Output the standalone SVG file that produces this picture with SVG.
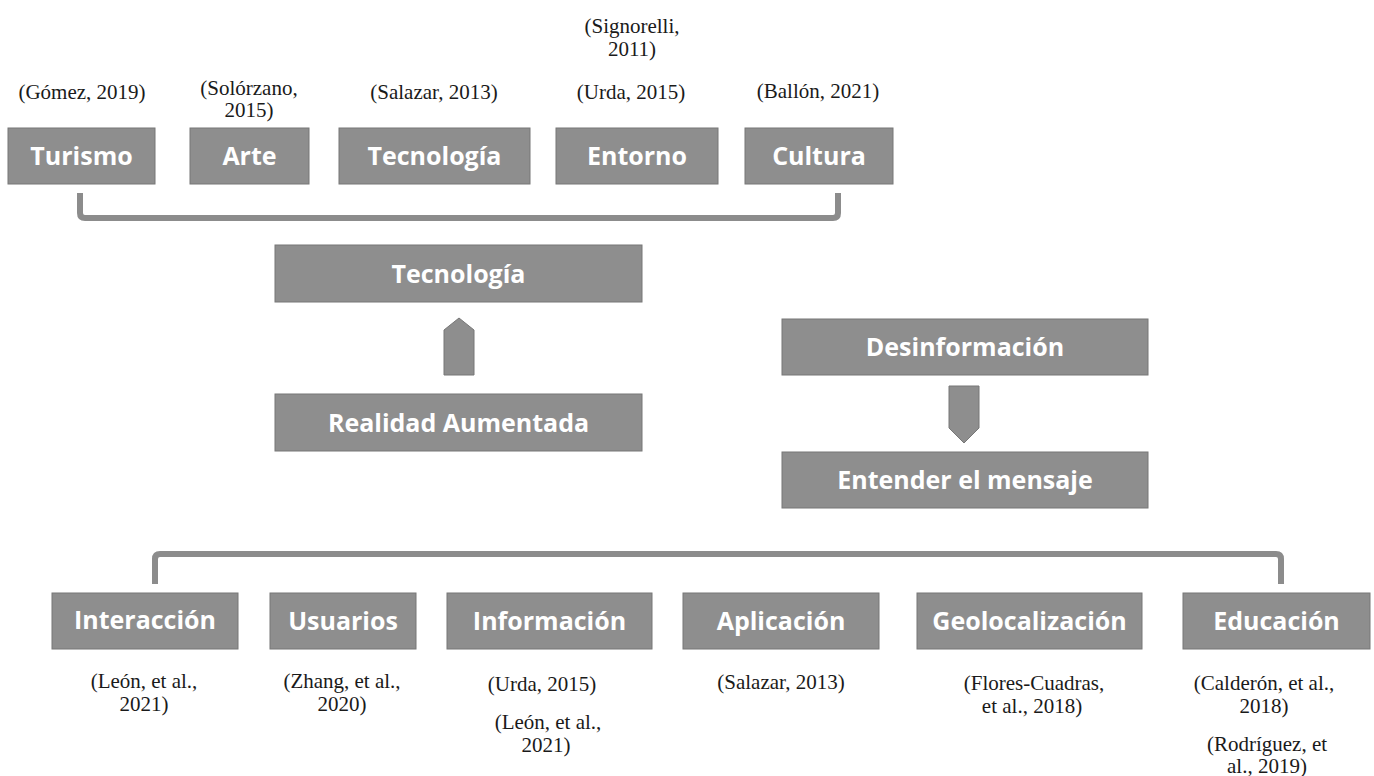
<svg xmlns="http://www.w3.org/2000/svg" width="1374" height="776" viewBox="0 0 1374 776">
<style>
.box{fill:#8e8e8e;stroke:#777;stroke-width:1}
.lbl{font-family:"Open Sans","DejaVu Sans",sans-serif;font-weight:bold;font-size:25px;fill:#fff;text-anchor:middle}
.cit{font-family:"Liberation Serif","Times New Roman",serif;font-size:21px;fill:#1a1a1a;text-anchor:middle}
.br{fill:none;stroke:#8c8c8c;stroke-width:6;stroke-linejoin:round;stroke-linecap:butt}
.arr{fill:#8e8e8e;stroke:#777;stroke-width:1}
</style>
<rect width="1374" height="776" fill="#fff"/>
<g id="connectors">
<path class="br" d="M80,193 V213 Q80,218 85,218 H833 Q838,218 838,213 V193"/>
<path class="br" d="M155,584 V559 Q155,554 160,554 H1276 Q1281,554 1281,559 V584"/>
<polygon id="arrow-up" class="arr" points="444,375 444,330 459,318 474,330 474,375"/>
<polygon id="arrow-down" class="arr" points="949,386 979,386 979,428 964,443 949,428"/>
</g>
<g id="turismo"><rect class="box" x="8" y="128" width="147" height="56"/><text class="lbl" x="81.5" y="165">Turismo</text><text class="cit" x="82" y="99">(Gómez, 2019)</text></g>
<g id="arte"><rect class="box" x="190" y="128" width="119" height="56"/><text class="lbl" x="249.5" y="165">Arte</text><text class="cit" x="249" y="95">(Solórzano,</text><text class="cit" x="249" y="117">2015)</text></g>
<g id="tecnologia-top"><rect class="box" x="339" y="128" width="191" height="56"/><text class="lbl" x="434.5" y="165">Tecnología</text><text class="cit" x="434" y="99">(Salazar, 2013)</text></g>
<g id="entorno"><rect class="box" x="556" y="128" width="162" height="56"/><text class="lbl" x="637" y="165">Entorno</text><text class="cit" x="631" y="99">(Urda, 2015)</text><text class="cit" x="632" y="33">(Signorelli,</text><text class="cit" x="632" y="56">2011)</text></g>
<g id="cultura"><rect class="box" x="745" y="128" width="148" height="56"/><text class="lbl" x="819" y="165">Cultura</text><text class="cit" x="818" y="98">(Ballón, 2021)</text></g>
<g id="tecnologia"><rect class="box" x="275" y="245" width="367" height="57"/><text class="lbl" x="458.5" y="283">Tecnología</text></g>
<g id="realidad"><rect class="box" x="275" y="394" width="367" height="57"/><text class="lbl" x="458.5" y="432">Realidad Aumentada</text></g>
<g id="desinformacion"><rect class="box" x="782" y="319" width="366" height="56"/><text class="lbl" x="965" y="356">Desinformación</text></g>
<g id="entender"><rect class="box" x="782" y="452" width="366" height="56"/><text class="lbl" x="965" y="489">Entender el mensaje</text></g>
<g id="interaccion"><rect class="box" x="52" y="593" width="186" height="56"/><text class="lbl" x="145" y="629">Interacción</text><text class="cit" x="144" y="688">(León, et al.,</text><text class="cit" x="144" y="711">2021)</text></g>
<g id="usuarios"><rect class="box" x="270" y="593" width="146" height="56"/><text class="lbl" x="343" y="630">Usuarios</text><text class="cit" x="342" y="688">(Zhang, et al.,</text><text class="cit" x="342" y="711">2020)</text></g>
<g id="informacion"><rect class="box" x="447" y="593" width="205" height="56"/><text class="lbl" x="549.5" y="630">Información</text><text class="cit" x="542" y="691">(Urda, 2015)</text><text class="cit" x="548" y="729">(León, et al.,</text><text class="cit" x="546" y="752">2021)</text></g>
<g id="aplicacion"><rect class="box" x="683" y="593" width="196" height="56"/><text class="lbl" x="781" y="630">Aplicación</text><text class="cit" x="781" y="689">(Salazar, 2013)</text></g>
<g id="geolocalizacion"><rect class="box" x="917" y="593" width="225" height="56"/><text class="lbl" x="1029.5" y="630">Geolocalización</text><text class="cit" x="1034" y="690">(Flores-Cuadras,</text><text class="cit" x="1032" y="713">et al., 2018)</text></g>
<g id="educacion"><rect class="box" x="1183" y="593" width="187" height="56"/><text class="lbl" x="1276.5" y="630">Educación</text><text class="cit" x="1264" y="690">(Calderón, et al.,</text><text class="cit" x="1264" y="713">2018)</text><text class="cit" x="1267" y="751">(Rodríguez, et</text><text class="cit" x="1267" y="773">al., 2019)</text></g>
</svg>
